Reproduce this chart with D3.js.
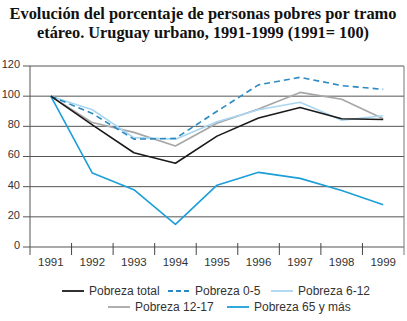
<!DOCTYPE html>
<html>
<head>
<meta charset="utf-8">
<script src="https://cdn.jsdelivr.net/npm/d3@7"></script>
<style>
  body { margin: 0; background: #fff; }
  svg { display: block; }
</style>
</head>
<body>
<script>
// data (1991 = 100)
const years = ["1991", "1992", "1993", "1994", "1995", "1996", "1997", "1998", "1999"];
const pobrezaTotal = [100, 81, 62.5, 55.5, 73.5, 85.5, 92.5, 85, 84.5];
const pobreza0a5 = [100, 88.5, 71.5, 72, 90, 107.5, 112.5, 107, 104.5];
const pobreza6a12 = [100, 91, 72.5, 71.5, 83, 91, 96, 84, 87];
const pobreza12a17 = [100, 82.5, 76, 67, 82, 91.5, 102.5, 98, 85];
const pobreza65 = [100, 49, 38, 15, 41, 49.5, 45.5, 37.5, 28];
const yTicks = [0, 20, 40, 60, 80, 100, 120];
const titleLines = [
  "Evolución del porcentaje de personas pobres por tramo",
  "etáreo. Uruguay urbano, 1991-1999 (1991= 100)"
];

const series = [
  {name: "Pobreza total", values: pobrezaTotal, color: "#1a1a1a", dash: null},
  {name: "Pobreza 0-5", values: pobreza0a5, color: "#2b8ac4", dash: "6,4"},
  {name: "Pobreza 6-12", values: pobreza6a12, color: "#a9d6f0", dash: null},
  {name: "Pobreza 12-17", values: pobreza12a17, color: "#a6a6a6", dash: null},
  {name: "Pobreza 65 y más", values: pobreza65, color: "#1c9fd8", dash: null}
];

const width = 407, height = 321;
const svg = d3.select("body").append("svg")
  .attr("width", width)
  .attr("height", height);

// title
svg.selectAll("text.title").data(titleLines).enter().append("text")
  .attr("class", "title")
  .attr("x", 203)
  .attr("y", (d, i) => 18.5 + i * 19.5)
  .attr("text-anchor", "middle")
  .attr("font-family", "Liberation Serif, serif")
  .attr("font-weight", "bold")
  .attr("font-size", 16.5)
  .attr("fill", "#111")
  .attr("textLength", (d, i) => i === 0 ? 387 : 332)
  .attr("lengthAdjust", "spacingAndGlyphs")
  .text(d => d);

const x = d3.scaleBand().domain(years).range([30, 404]).padding(0);
const y = d3.scaleLinear().domain([0, 120]).range([247, 66]);

// gridlines
svg.append("g").selectAll("line").data(yTicks).enter().append("line")
  .attr("x1", 23).attr("x2", 404)
  .attr("y1", d => y(d)).attr("y2", d => y(d))
  .attr("stroke", "#555").attr("stroke-width", 1);

// y labels
svg.append("g").selectAll("text").data(yTicks).enter().append("text")
  .attr("x", 20)
  .attr("y", d => y(d) - 2)
  .attr("dy", "0.35em")
  .attr("text-anchor", "end")
  .attr("font-family", "Liberation Sans, Arial, sans-serif")
  .attr("font-size", 11)
  .attr("fill", "#333")
  .text(d => d);

// left axis and right border
svg.append("line").attr("x1", 30).attr("x2", 30).attr("y1", y(120)).attr("y2", 255)
  .attr("stroke", "#555");
svg.append("line").attr("x1", 404).attr("x2", 404).attr("y1", y(120)).attr("y2", 255)
  .attr("stroke", "#777");

// x ticks between categories
svg.append("g").selectAll("line").data(years.slice(1)).enter().append("line")
  .attr("x1", d => x(d)).attr("x2", d => x(d))
  .attr("y1", 243).attr("y2", 255)
  .attr("stroke", "#444");

// x labels
const xAxis = svg.append("g")
  .attr("transform", `translate(0, 258)`)
  .call(d3.axisBottom(x).tickSize(0).tickPadding(0));
xAxis.select(".domain").remove();
xAxis.selectAll("text")
  .attr("font-family", "Liberation Sans, Arial, sans-serif")
  .attr("font-size", 11.5)
  .attr("fill", "#333");

// lines
const line = d3.line()
  .x((d, i) => x(years[i]) + x.bandwidth() / 2)
  .y(d => y(d));

svg.append("g").selectAll("path").data(series.slice().reverse()).enter().append("path")
  .attr("d", d => line(d.values))
  .attr("fill", "none")
  .attr("stroke", d => d.color)
  .attr("stroke-width", 1.6)
  .attr("stroke-dasharray", d => d.dash)
  .attr("stroke-linejoin", "round");

// legend
const legendPos = [
  {x: 62, y: 291}, {x: 168, y: 291}, {x: 271, y: 291},
  {x: 108, y: 307}, {x: 227, y: 307}
];
const legend = svg.append("g").selectAll("g").data(series).enter().append("g")
  .attr("transform", (d, i) => `translate(${legendPos[i].x}, ${legendPos[i].y})`);
legend.append("line")
  .attr("x1", 0).attr("x2", 22).attr("y1", 0).attr("y2", 0)
  .attr("stroke", d => d.color)
  .attr("stroke-width", 1.8)
  .attr("stroke-dasharray", d => d.dash ? "5,3" : null);
legend.append("text")
  .attr("x", 27)
  .attr("dy", "0.35em")
  .attr("font-family", "Liberation Sans, Arial, sans-serif")
  .attr("font-size", 12)
  .attr("fill", "#333")
  .text(d => d.name);
</script>
</body>
</html>
